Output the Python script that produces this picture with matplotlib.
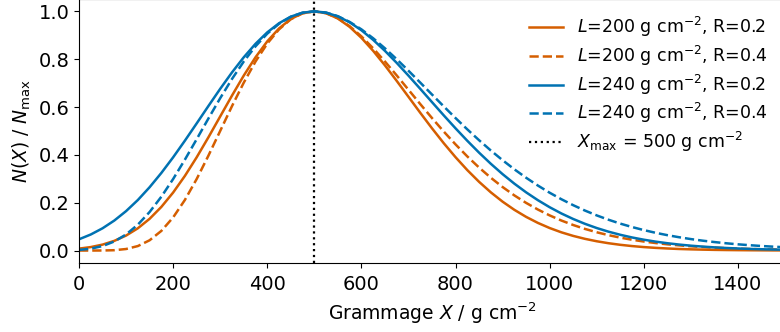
import numpy as np
import matplotlib
matplotlib.use("Agg")
import matplotlib.pyplot as plt

# grammage grid (g cm^-2), every 25 from 0 to 1500
grammage = np.arange(0, 1501, 25)

# N(X)/Nmax for each profile, read at the grid above
n_l200_r02 = [0.0080, 0.0145, 0.0248, 0.0404, 0.0626, 0.0930, 0.1327, 0.1825, 0.2425,
              0.3121, 0.3898, 0.4736, 0.5607, 0.6477, 0.7313, 0.8079, 0.8746, 0.9286,
              0.9682, 0.9921, 1.0, 0.9923, 0.9702, 0.9352, 0.8894, 0.8349, 0.7742,
              0.7094, 0.6428, 0.5761, 0.5110, 0.4487, 0.3903, 0.3363, 0.2873, 0.2433,
              0.2043, 0.1702, 0.1407, 0.1155, 0.0941, 0.0761, 0.0612, 0.0489, 0.0388,
              0.0306, 0.0240, 0.0187, 0.0145, 0.0112, 0.0086, 0.0065, 0.0050, 0.0038,
              0.0028, 0.0021, 0.0016, 0.0012, 0.0009, 0.0006, 0.0005]
n_l200_r04 = [0.0, 0.0000, 0.0002, 0.0014, 0.0064, 0.0187, 0.0429, 0.0822, 0.1385,
              0.2116, 0.2990, 0.3969, 0.5002, 0.6036, 0.7017, 0.7902, 0.8653, 0.9247,
              0.9671, 0.9920, 1.0, 0.9925, 0.9711, 0.9380, 0.8954, 0.8455, 0.7904,
              0.7321, 0.6723, 0.6125, 0.5539, 0.4974, 0.4438, 0.3935, 0.3470, 0.3043,
              0.2655, 0.2305, 0.1992, 0.1714, 0.1469, 0.1254, 0.1067, 0.0904, 0.0764,
              0.0643, 0.0540, 0.0452, 0.0377, 0.0314, 0.0260, 0.0216, 0.0178, 0.0147,
              0.0121, 0.0099, 0.0081, 0.0066, 0.0054, 0.0044, 0.0036]
n_l240_r02 = [0.0470, 0.0671, 0.0930, 0.1254, 0.1648, 0.2112, 0.2647, 0.3245, 0.3898,
              0.4594, 0.5315, 0.6044, 0.6761, 0.7446, 0.8079, 0.8643, 0.9122, 0.9503,
              0.9779, 0.9945, 1.0, 0.9947, 0.9791, 0.9542, 0.9210, 0.8808, 0.8349,
              0.7846, 0.7313, 0.6762, 0.6205, 0.5651, 0.5110, 0.4589, 0.4093, 0.3627,
              0.3194, 0.2796, 0.2433, 0.2105, 0.1811, 0.1549, 0.1319, 0.1117, 0.0941,
              0.0789, 0.0659, 0.0547, 0.0453, 0.0373, 0.0306, 0.0250, 0.0203, 0.0165,
              0.0133, 0.0107, 0.0086, 0.0068, 0.0054, 0.0043, 0.0034]
n_l240_r04 = [0.0025, 0.0078, 0.0187, 0.0379, 0.0672, 0.1082, 0.1611, 0.2252, 0.2990,
              0.3801, 0.4655, 0.5522, 0.6371, 0.7172, 0.7902, 0.8538, 0.9068, 0.9481,
              0.9773, 0.9944, 1.0, 0.9947, 0.9797, 0.9559, 0.9248, 0.8875, 0.8455,
              0.7999, 0.7518, 0.7023, 0.6523, 0.6026, 0.5539, 0.5066, 0.4613, 0.4182,
              0.3776, 0.3396, 0.3043, 0.2717, 0.2417, 0.2144, 0.1896, 0.1671, 0.1469,
              0.1288, 0.1126, 0.0983, 0.0855, 0.0742, 0.0643, 0.0556, 0.0479, 0.0413,
              0.0355, 0.0304, 0.0260, 0.0223, 0.0190, 0.0162, 0.0138]

x_max = 500

orange = "#D55E00"
blue = "#0072B2"

fig = plt.figure(figsize=(7.8, 3.32), dpi=100)
ax = fig.add_axes([79 / 780, 69.5 / 332, 706 / 780, 263.1 / 332])

lw = 1.8
ax.plot(grammage, n_l200_r02, color=orange, lw=lw, ls="-",
        label=r"$L$=200 g cm$^{-2}$, R=0.2")
ax.plot(grammage, n_l200_r04, color=orange, lw=lw, ls="--",
        label=r"$L$=200 g cm$^{-2}$, R=0.4")
ax.plot(grammage, n_l240_r02, color=blue, lw=lw, ls="-",
        label=r"$L$=240 g cm$^{-2}$, R=0.2")
ax.plot(grammage, n_l240_r04, color=blue, lw=lw, ls="--",
        label=r"$L$=240 g cm$^{-2}$, R=0.4")
ax.axvline(x_max, color="black", ls=":", lw=1.6,
           label=r"$X_{\max}$ = 500 g cm$^{-2}$")

ax.set_xlim(0, 1500)
ax.set_ylim(-0.05, 1.05)
ax.set_xticks([0, 200, 400, 600, 800, 1000, 1200, 1400])
ax.set_yticks([0.0, 0.2, 0.4, 0.6, 0.8, 1.0])
ax.tick_params(labelsize=14)
ax.tick_params(axis="x", pad=5.5)

ax.set_xlabel(r"Grammage $X$ / g cm$^{-2}$", fontsize=13.5, labelpad=5)
ax.set_ylabel(r"$N(X)$ / $N_{\max}$", fontsize=13.5)

ax.legend(loc="upper right", frameon=False, fontsize=12.5,
          labelspacing=0.27, bbox_to_anchor=(0.998, 1.0))

fig.savefig("out.png", dpi=100)
